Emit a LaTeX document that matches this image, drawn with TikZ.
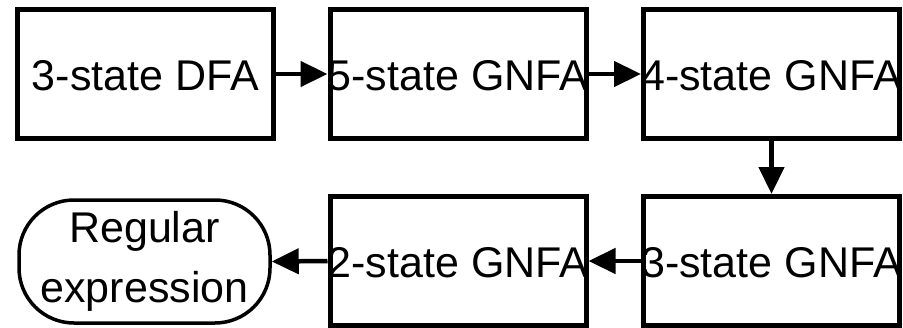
\documentclass[tikz,border=0pt]{standalone}
\usepackage{fontspec}
\setmainfont{Liberation Sans}
\usetikzlibrary{arrows.meta}
\begin{document}
\begin{tikzpicture}[x=1pt,y=-1pt,
  stagebox/.style={draw,line width=5pt,minimum width=256pt,minimum height=129pt,inner sep=0pt},
  bigtext/.style={font=\fontsize{43}{60}\selectfont,inner sep=0pt},
  regbox/.style={draw,line width=3.5pt,minimum width=251pt,minimum height=123pt,inner sep=0pt,rounded corners=55pt,align=center,font=\fontsize{43}{60}\selectfont},
  arr/.style={line width=4.5pt,-{Triangle[length=27pt,width=25pt]}}]
\useasboundingbox (0,0) rectangle (903,327);
\node[stagebox] (b1) at (145.5,74) {};
\node[stagebox] (b2) at (458,74) {};
\node[stagebox] (b3) at (771.5,74) {};
\node[stagebox] (b4) at (771.5,261) {};
\node[stagebox] (b5) at (458,261) {};
\node[regbox] (re) at (144.5,261.5) {Regular\\expression};
\node[bigtext] (t1) at (145.5,75.5) {3-state DFA};
\node[bigtext] (t2) at (458,75.5) {5-state GNFA};
\node[bigtext] (t3) at (771.5,75.5) {4-state GNFA};
\node[bigtext] (t4) at (771.5,263) {3-state GNFA};
\node[bigtext] (t5) at (458,263) {2-state GNFA};
\draw[arr] (b1.east) -- (b2.west);
\draw[arr] (b2.east) -- (b3.west);
\draw[arr] (b3.south) -- (b4.north);
\draw[arr] (b4.west) -- (b5.east);
\draw[arr] (b5.west) -- (re.east);
\end{tikzpicture}
\end{document}
